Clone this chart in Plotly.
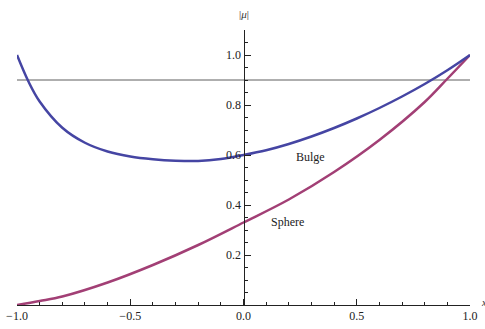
import plotly.graph_objects as go

# Bulge curve |mu| versus x
bulge_x = [-1.0, -0.95, -0.9, -0.8, -0.7, -0.6, -0.5, -0.4, -0.3, -0.2, -0.1, 0.0,
           0.1, 0.2, 0.3, 0.4, 0.5, 0.6, 0.7, 0.8, 0.9, 1.0]
bulge_y = [1.0, 0.895, 0.814, 0.709, 0.649, 0.614, 0.594, 0.583, 0.577, 0.576, 0.584, 0.6,
           0.619, 0.644, 0.674, 0.708, 0.746, 0.788, 0.834, 0.884, 0.939, 1.0]

# Sphere curve |mu| versus x
sphere_x = [-1.0, -0.9, -0.8, -0.6, -0.4, -0.2, 0.0, 0.2, 0.4, 0.6, 0.8, 0.9, 1.0]
sphere_y = [0.0, 0.016, 0.034, 0.09, 0.16, 0.24, 0.33, 0.422, 0.532, 0.66, 0.812, 0.905, 1.0]

# Reference level
level_x = [-1.0, 1.0]
level_y = [0.9, 0.9]

x_ticks = [-1.0, -0.5, 0.0, 0.5, 1.0]
x_ticktext = ["\u22121.0", "\u22120.5", "0.0", "0.5", "1.0"]
y_ticks = [0.2, 0.4, 0.6, 0.8, 1.0]
y_ticktext = ["0.2", "0.4", "0.6", "0.8", "1.0"]

SERIF = "Liberation Serif"
BLUE = "#4545a3"
PURPLE = "#a23f75"

fig = go.Figure()
fig.add_trace(go.Scatter(x=level_x, y=level_y, mode="lines",
                         line=dict(color="#5e5e5e", width=1), hoverinfo="skip"))
fig.add_trace(go.Scatter(x=sphere_x, y=sphere_y, mode="lines",
                         line=dict(color=PURPLE, width=2.5, shape="spline", smoothing=1.0)))
fig.add_trace(go.Scatter(x=bulge_x, y=bulge_y, mode="lines",
                         line=dict(color=BLUE, width=2.5, shape="spline", smoothing=1.0)))

axis_font = dict(family=SERIF, size=12, color="#222222")

fig.update_layout(
    width=485, height=329,
    margin=dict(l=17, r=15, t=30, b=24, autoexpand=False),
    paper_bgcolor="white", plot_bgcolor="white",
    showlegend=False,
    xaxis=dict(range=[-1.0, 1.0], showgrid=False, zeroline=False, automargin=False,
               showline=True, linecolor="#222222", linewidth=1,
               ticks="inside", ticklen=6, tickcolor="#222222",
               tickvals=x_ticks, ticktext=x_ticktext, tickfont=axis_font,
               minor=dict(ticks="inside", dtick=0.1, tick0=0, ticklen=3.5,
                          tickcolor="#222222")),
    yaxis=dict(range=[0.0, 1.1], showgrid=False, zeroline=False, automargin=False,
               anchor="free", position=0.5,
               showline=True, linecolor="#222222", linewidth=1,
               ticks="inside", ticklen=6, tickcolor="#222222",
               tickvals=y_ticks, ticktext=y_ticktext, tickfont=axis_font,
               minor=dict(ticks="inside", dtick=0.05, tick0=0, ticklen=3.5,
                          tickcolor="#222222")),
)

label_font = dict(family=SERIF, size=12, color="#222222")
fig.add_annotation(x=0.296, y=0.592, text="Bulge", showarrow=False, font=label_font)
fig.add_annotation(x=0.194, y=0.332, text="Sphere", showarrow=False, font=label_font)
fig.add_annotation(x=0.0, y=1.1, yshift=16, text="|<i>\u03bc</i>|", showarrow=False,
                   font=dict(family=SERIF, size=11, color="#333333"))
fig.add_annotation(x=1.0, y=0.0, xshift=9, yshift=3, text="<i>x</i>", showarrow=False,
                   xanchor="left", font=dict(family=SERIF, size=10, color="#333333"))

fig.write_html("out.html")
